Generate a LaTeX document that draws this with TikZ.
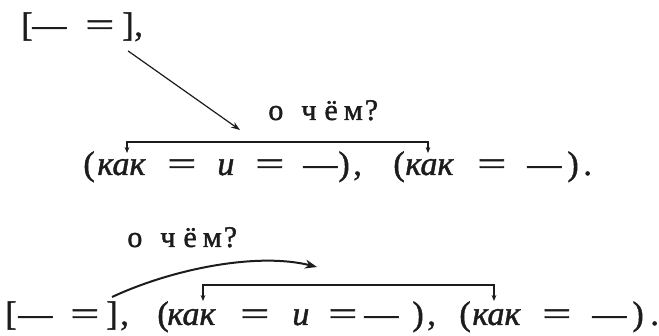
\documentclass[tikz,border=0pt]{standalone}
\usepackage{fontspec}
\setmainfont[FakeBold=1.3]{Liberation Serif}
\usepackage{graphicx}
\usepackage{xcolor}
\usetikzlibrary{arrows.meta,calc}
\definecolor{Ink}{HTML}{1C1C1C}
\newcommand{\eqs}{\scalebox{1.5}[1]{=}}
\newcommand{\ochem}{о\hspace{9pt}ч\hspace{4pt}ё\hspace{3pt}м\hspace{1pt}?}
\tikzset{
  tok/.style={inner sep=0pt,anchor=base west,text=Ink,font=\fontsize{17}{20}\selectfont},
  ask/.style={inner sep=0pt,anchor=base west,text=Ink,font=\fontsize{15}{17}\selectfont},
  link/.style={draw=Ink,line width=0.6pt,-{Stealth[length=4.5pt,width=3.2pt]}},
  bridge/.style={draw=Ink,line width=0.55pt,{Stealth[length=3pt,width=2.4pt]}-{Stealth[length=3pt,width=2.4pt]}},
  swing/.style={draw=Ink,line width=1pt,-{Stealth[length=6pt,width=4.5pt]}}
}

\begin{document}
\begin{tikzpicture}[x=0.5pt,y=-0.5pt]
  \useasboundingbox (0,0) rectangle (659,336);
  % first line
  \foreach \x/\t [count=\i] in {21/[, 32/---, 85/\eqs, 122/], 134/{,}}
    \node[tok] (a\i) at (\x,36) {\t};
  \coordinate (e1) at (240,130);
  \draw[link] ([yshift=-5pt]a4.south) -- (e1);
  \node[ask] (q1) at (268,120) {\ochem};
  % second line
  \foreach \x/\t [count=\i] in {83/(, 97/\textit{как}, 167/\eqs, 217/\textit{и}, 255/\eqs, 303/---, 338/), 353/{,},
      393/(, 405/\textit{как}, 477/\eqs, 527/---, 567/), 583/.}
    \node[tok] (b\i) at (\x,175) {\t};
  \coordinate (t1) at ($(b2.base west)+(30,-22)$);
  \coordinate (t2) at ($(b10.base west)+(23,-22)$);
  \draw[bridge] (t1) -- ++(0,-11) -| (t2);
  % third line
  \node[ask] (q2) at (127,247) {\ochem};
  \foreach \x/\t [count=\i] in {5/[, 18/---, 70/\eqs, 106/], 120/{,}, 157/(, 167/\textit{как}, 240/\eqs, 292/\textit{и},
      328/\eqs, 364/---, 412/), 427/{,}, 459/(, 472/\textit{как}, 542/\eqs, 592/---, 632/), 650/.}
    \node[tok] (c\i) at (\x,325) {\t};
  \coordinate (e2) at (317,267);
  \draw[swing] ([yshift=2pt]c4.north) .. controls +(60,-28) and +(-60,-15) .. (e2);
  \coordinate (t3) at ($(c7.base west)+(36,-24)$);
  \coordinate (t4) at ($(c15.base west)+(22,-24)$);
  \draw[bridge] (t3) -- ++(0,-16) -| (t4);
\end{tikzpicture}
\end{document}
